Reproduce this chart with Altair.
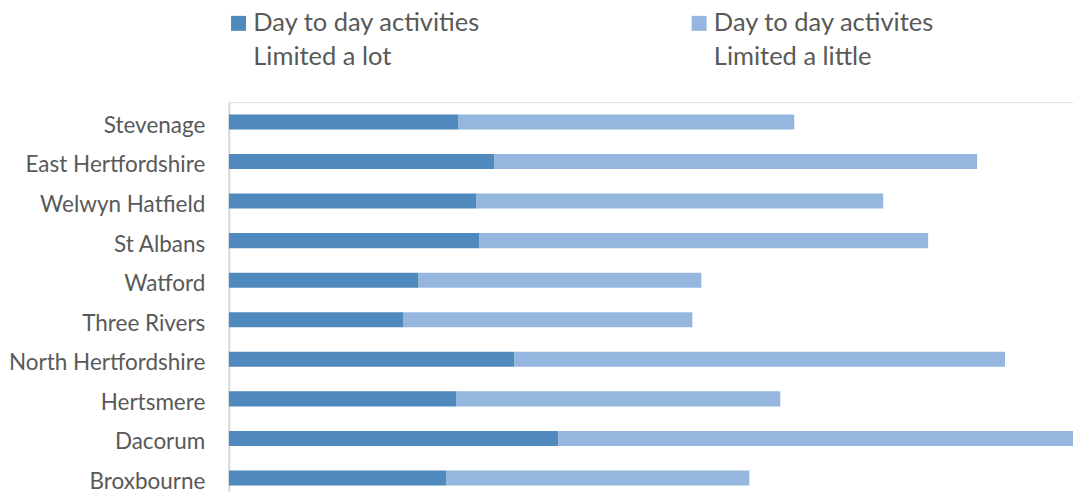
import altair as alt
import pandas as pd

categories = ["Stevenage", "East Hertfordshire", "Welwyn Hatfield", "St Albans",
              "Watford", "Three Rivers", "North Hertfordshire", "Hertsmere",
              "Dacorum", "Broxbourne"]
limited_a_lot = [230, 266, 248, 251, 190, 175, 286, 228, 330, 218]
limited_a_little = [336, 483, 407, 449, 283, 289, 491, 324, 523, 303]
series = ["Day to day activities|Limited a lot", "Day to day activites|Limited a little"]
colors = ["#4F89BD", "#95B7DF"]

rows = []
for c, a, b in zip(categories, limited_a_lot, limited_a_little):
    rows.append({"district": c, "series": series[0], "value": a, "ord": 0})
    rows.append({"district": c, "series": series[1], "value": b, "ord": 1})
df = pd.DataFrame(rows)

FONT = "Lato"

chart = alt.Chart(df).mark_bar(clip=True).encode(
    y=alt.Y("district:N", sort=categories, title=None,
            scale=alt.Scale(paddingInner=0.62, paddingOuter=0.31),
            axis=alt.Axis(ticks=False, domainColor="#D9D9D9", domainWidth=2,
                          labelFont=FONT, labelFontSize=22.5, labelColor="#595959",
                          labelPadding=24, labelOffset=4, labelLimit=400,
                          minExtent=220, maxExtent=220)),
    x=alt.X("value:Q", stack="zero", axis=None,
            scale=alt.Scale(domain=[0, 845], nice=False, zero=True)),
    color=alt.Color("series:N",
                    scale=alt.Scale(domain=series, range=colors),
                    legend=alt.Legend(title=None, orient="none", legendX=-3, legendY=-92,
                                      direction="horizontal",
                                      columns=2, columnPadding=205,
                                      symbolType="square", symbolSize=225, symbolStrokeWidth=0,
                                      labelFont=FONT, labelFontSize=25.5, labelColor="#595959",
                                      labelOffset=2, labelLimit=500,
                                      labelExpr="split(datum.label, '|')")),
    order=alt.Order("ord:Q"),
).properties(
    width=845, height=396,
    padding={"left": 0, "top": 2, "right": 0, "bottom": 0},
).configure_view(stroke=None).configure(
    style={"guide-label": {"lineHeight": 34}}
)

chart.save("out.html", embed_options={"renderer": "svg", "actions": False})
